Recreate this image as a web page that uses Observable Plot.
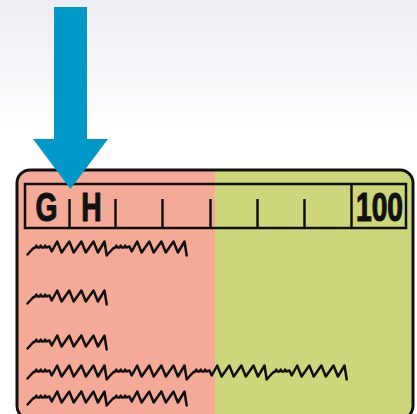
<!DOCTYPE html>
<html><head><meta charset="utf-8">
<script src="https://cdn.jsdelivr.net/npm/d3@7"></script>
<script src="https://cdn.jsdelivr.net/npm/@observablehq/plot@0.6"></script>
<style>html,body{margin:0;padding:0;background:#fff;overflow:hidden}</style>
</head><body><div id="chart"></div>
<script>
// ---- data (pixel-space units of the illustration) ----
const arrowShaft = [{x1: 54, x2: 87, y1: 7, y2: 140}];
const arrowHead = [{x: 33, y1: 139, y2: 139}, {x: 70.5, y1: 139, y2: 189}, {x: 108, y1: 139, y2: 139}];
const card = [{x1: 17, x2: 413, y1: 170, y2: 419}];
const redZone = [{x1: 17, x2: 413, y1: 170, y2: 419}];
const greenZone = [{x1: 200, x2: 413, y1: 170, y2: 419}];
const redPatch = [{x1: 32, x2: 215, y1: 170, y2: 419}];
const scaleBox = [{x1: 25, x2: 406, y1: 184, y2: 228}];
const tickXs = [69, 115, 162, 210, 257, 304];
const dividerX = [351];
const labels = ["G", "H", "100"];
const labelXs = [46, 91, 379];
// one scribbled "word" of placeholder handwriting: [dx, dy]
const wordShape = [[0,6],[5,0],[7,-1],[8,-3],[9,-1],[11,-1],[12,-3],[13,-1],[15,-1],[16,-3],[17,-1],[20,-2],
  [22,3],[27,-7],[31,4],[38,-7],[42,4],[49,-7],[53,4],[60,-7],[64,4],[70,-7],[72,7]];
const wordStretch = 1.1;
const wordWidth = 80;
const rowYs = [248, 297, 342, 372, 398];
const rowWords = [2, 1, 1, 4, 2];
const rowStart = 27;

const scribble = [];
rowYs.forEach((ry, r) => {
  for (let w = 0; w < rowWords[r]; w++) {
    wordShape.forEach(([dx, dy]) => {
      scribble.push({row: r, x: rowStart + w * wordWidth + dx * wordStretch, y: ry + dy});
    });
  }
});

const defs = () => {
  const g = d3.create("svg:defs");
  const lg = g.append("linearGradient").attr("id", "bg").attr("x1", 0).attr("y1", 0).attr("x2", 0).attr("y2", 1);
  lg.append("stop").attr("offset", "0%").attr("stop-color", "#ececf3");
  lg.append("stop").attr("offset", "100%").attr("stop-color", "#ffffff");
  return g.node();
};

const font = "'Liberation Sans', Arial, sans-serif";

const chart = Plot.plot({
  width: 417, height: 414,
  margin: 0,
  x: {domain: [0, 417], range: [0, 417], axis: null},
  y: {domain: [0, 414], range: [0, 414], axis: null},
  style: {background: "transparent"},
  marks: [
    defs,
    Plot.rect([{x1: 0, x2: 417, y1: 0, y2: 135}], {x1: "x1", x2: "x2", y1: "y1", y2: "y2", fill: "url(#bg)"}),
    Plot.rect(redZone, {x1: "x1", x2: "x2", y1: "y1", y2: "y2", fill: "#f4aa96", rx: 13}),
    Plot.rect(greenZone, {x1: "x1", x2: "x2", y1: "y1", y2: "y2", fill: "#cdd67a", rx: 13}),
    Plot.rect(redPatch, {x1: "x1", x2: "x2", y1: "y1", y2: "y2", fill: "#f4aa96"}),
    Plot.rect(card, {x1: "x1", x2: "x2", y1: "y1", y2: "y2", fill: "none", stroke: "#111", strokeWidth: 3, rx: 13}),
    Plot.rect(scaleBox, {x1: "x1", x2: "x2", y1: "y1", y2: "y2", fill: "none", stroke: "#111", strokeWidth: 2.5}),
    Plot.ruleX(tickXs, {x: d => d, y1: 199, y2: 228, stroke: "#111", strokeWidth: 2.5}),
    Plot.ruleX(dividerX, {x: d => d, y1: 184, y2: 228, stroke: "#111", strokeWidth: 2.5}),
    Plot.text(labels, {x: (d, i) => labelXs[i], y: 207, text: d => d, fontSize: 41, fontWeight: "bold", fontFamily: font, fill: "#111", stroke: "#111", strokeWidth: 1.2}),
    Plot.line(scribble, {x: "x", y: "y", z: "row", stroke: "#111", strokeWidth: 2.5, strokeLinejoin: "round", strokeLinecap: "round"}),
    Plot.rect(arrowShaft, {x1: "x1", x2: "x2", y1: "y1", y2: "y2", fill: "#0098c9"}),
    Plot.areaY(arrowHead, {x: "x", y1: "y1", y2: "y2", fill: "#0098c9"})
  ]
});
// condense the label glyphs horizontally (narrow bold face)
d3.select(chart).selectAll("text").each(function () {
  const t = d3.select(this);
  const tr = t.attr("transform");
  if (tr) {
    t.attr("transform", tr + " scale(0.69,1)");
  } else {
    const x = +t.attr("x") || 0, y = +t.attr("y") || 0;
    t.attr("x", null).attr("y", null).attr("transform", `translate(${x},${y}) scale(0.69,1)`);
  }
});
document.getElementById("chart").appendChild(chart);
</script></body></html>
